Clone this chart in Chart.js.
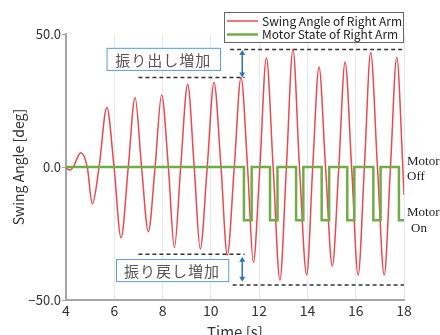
<!DOCTYPE html>
<html>
<head>
<meta charset="utf-8">
<script src="https://cdn.jsdelivr.net/npm/chart.js@4"></script>
<style>
  body { margin: 0; background: #fff; }
  #wrap { width: 440px; height: 335px; }
</style>
</head>
<body>
<div id="wrap"><canvas id="swingChart" width="440" height="335"></canvas></div>
<script>
// Swing angle of right arm (deg): peaks, zero crossings, troughs
const angleTimes = [4.0, 4.17, 4.3, 4.61, 4.88, 5.09, 5.37, 5.69, 5.99, 6.28, 6.58, 6.86, 7.13, 7.41,
    7.69, 7.96, 8.24, 8.49, 8.75, 9.04, 9.31, 9.56, 9.85, 10.13, 10.42, 10.68, 10.97, 11.25, 11.52,
    11.76, 12.03, 12.3, 12.58, 12.86, 13.13, 13.4, 13.67, 13.97, 14.22, 14.48, 14.75, 15.03, 15.3,
    15.56, 15.83, 16.1, 16.36, 16.62, 16.9, 17.18, 17.44, 17.7, 17.95, 18.0];
const angleValues = [-0.5, -1.1, 0, 5.4, 0, -13.9, 0, 22.4, 0, -26.6, 0, 26.1, 0, -24.3,
    0, 27.1, 0, -30.3, 0, 31.1, 0, -30.8, 0, 31.8, 0, -33.1, 0, 33.6, 0,
    -35.8, 0, 41.0, 0, -42.5, 0, 44.3, 0, -40.6, 0, 37.6, 0, -37.2, 0,
    39.5, 0, -40.6, 0, 43.0, 0, -40.6, 0, 41.3, 0, -10.5];

// Motor state: 0 = off, -20 = on (value holds until the next change)
const motorTimes = [4.0, 11.37, 11.69, 12.45, 12.76, 13.53, 13.83, 14.59, 14.9, 15.65, 15.94, 16.73, 17.03, 17.79, 18.0];
const motorStates = [0, -20, 0, -20, 0, -20, 0, -20, 0, -20, 0, -20, 0, -20, -20];

const seriesLabels = ["Swing Angle of Right Arm", "Motor State of Right Arm"];
const xTicks = [4, 6, 8, 10, 12, 14, 16, 18];
const yTicks = [-50, 0, 50];

const RED = "rgb(236, 72, 78)";
const GREEN = "rgb(112, 173, 71)";
const JP_FONT = "'Noto Sans CJK JP', 'Noto Sans', sans-serif";

// dashed guide lines and annotation boxes, in data units
const guides = [
    { x0: 10.8, x1: 18.0, y: 44.2 },
    { x0: 7.0, x1: 11.4, y: 33.6 },
    { x0: 7.0, x1: 11.4, y: -32.8 },
    { x0: 10.9, x1: 18.0, y: -44.4 }
];
const notes = [
    { text: "振り出し増加", x0: 5.68, x1: 10.38, y0: 44.8, y1: 36.5, ax: 11.3, ay0: 44.0, ay1: 33.6 },
    { text: "振り戻し増加", x0: 6.07, x1: 10.72, y0: -34.6, y1: -42.9, ax: 11.3, ay0: -33.7, ay1: -43.1 }
];

function toPoints(xs, ys) {
    return xs.map((x, i) => ({ x: x, y: ys[i] }));
}

function arrowHead(ctx, x, y, dir) {
    ctx.beginPath();
    ctx.moveTo(x, y);
    ctx.lineTo(x - 3, y - 5 * dir);
    ctx.lineTo(x + 3, y - 5 * dir);
    ctx.closePath();
    ctx.fill();
}

const decorations = {
    id: "decorations",
    afterDatasetsDraw(chart) {
        const ctx = chart.ctx;
        const xs = chart.scales.x;
        const ys = chart.scales.y;
        ctx.save();

        // dashed guides
        ctx.strokeStyle = "#333";
        ctx.lineWidth = 1.5;
        ctx.setLineDash([4, 3]);
        guides.forEach(g => {
            const py = ys.getPixelForValue(g.y);
            ctx.beginPath();
            ctx.moveTo(xs.getPixelForValue(g.x0), py);
            ctx.lineTo(xs.getPixelForValue(g.x1), py);
            ctx.stroke();
        });
        ctx.setLineDash([]);

        // text boxes and arrows
        notes.forEach(n => {
            const l = xs.getPixelForValue(n.x0), r = xs.getPixelForValue(n.x1);
            const t = ys.getPixelForValue(n.y0), b = ys.getPixelForValue(n.y1);
            ctx.fillStyle = "#fff";
            ctx.fillRect(l, t, r - l, b - t);
            ctx.strokeStyle = "#5b9bd5";
            ctx.lineWidth = 1;
            ctx.strokeRect(l + 0.5, t + 0.5, r - l, b - t);
            ctx.fillStyle = "#555";
            ctx.font = "15px " + JP_FONT;
            ctx.textAlign = "center";
            ctx.textBaseline = "middle";
            ctx.letterSpacing = "1px";
            ctx.fillText(n.text, (l + r) / 2, (t + b) / 2 + 1);
            ctx.letterSpacing = "0px";

            const ax = xs.getPixelForValue(n.ax);
            const a0 = ys.getPixelForValue(n.ay0), a1 = ys.getPixelForValue(n.ay1);
            ctx.strokeStyle = "#2e75b6";
            ctx.fillStyle = "#2e75b6";
            ctx.lineWidth = 1.5;
            ctx.beginPath();
            ctx.moveTo(ax, a0 + 3);
            ctx.lineTo(ax, a1 - 3);
            ctx.stroke();
            arrowHead(ctx, ax, a0, -1);
            arrowHead(ctx, ax, a1, 1);
        });

        // legend
        const lx = 224, ly = 12, lw = 179, lh = 30;
        ctx.fillStyle = "#fff";
        ctx.fillRect(lx, ly, lw, lh);
        ctx.strokeStyle = "#666";
        ctx.lineWidth = 1;
        ctx.strokeRect(lx + 0.5, ly + 0.5, lw, lh);
        const colors = [RED, GREEN];
        ctx.font = "12px " + JP_FONT;
        ctx.textAlign = "left";
        ctx.textBaseline = "middle";
        seriesLabels.forEach((label, i) => {
            const y = ly + 9 + i * 13.5;
            ctx.strokeStyle = colors[i];
            ctx.lineWidth = i === 0 ? 1.5 : 2.5;
            ctx.beginPath();
            ctx.moveTo(lx + 3, y);
            ctx.lineTo(lx + 34, y);
            ctx.stroke();
            ctx.fillStyle = "#222";
            ctx.fillText(label, lx + 38, y);
        });

        // motor labels on the right
        ctx.font = "13px 'Liberation Serif', serif";
        ctx.fillStyle = "#222";
        const yOff = ys.getPixelForValue(0);
        const yOn = ys.getPixelForValue(-20);
        ctx.fillText("Motor", 407, yOff - 5);
        ctx.fillText("Off", 407, yOff + 10);
        ctx.fillText("Motor", 407, yOn - 8);
        ctx.fillText("On", 411, yOn + 8);

        // axis titles
        ctx.fillStyle = "#333";
        ctx.font = "15px " + JP_FONT;
        ctx.textAlign = "center";
        ctx.fillText("Time [s]", (chart.chartArea.left + chart.chartArea.right) / 2, 332);
        ctx.font = "14px " + JP_FONT;
        ctx.translate(19, (chart.chartArea.top + chart.chartArea.bottom) / 2);
        ctx.rotate(-Math.PI / 2);
        ctx.fillText("Swing Angle [deg]", 0, 0);
        ctx.restore();
    }
};

new Chart(document.getElementById("swingChart"), {
    type: "line",
    data: {
        datasets: [
            {
                label: seriesLabels[1],
                data: toPoints(motorTimes, motorStates),
                borderColor: GREEN,
                borderWidth: 2.5,
                stepped: true,
                pointRadius: 0,
                order: 0
            },
            {
                label: seriesLabels[0],
                data: toPoints(angleTimes, angleValues),
                borderColor: RED,
                borderWidth: 1.5,
                cubicInterpolationMode: "monotone",
                pointRadius: 0,
                order: 1
            }
        ]
    },
    options: {
        responsive: false,
        animation: false,
        layout: { padding: { left: 0, right: 36, top: 34, bottom: 0 } },
        plugins: {
            legend: { display: false },
            tooltip: { enabled: false }
        },
        scales: {
            x: {
                type: "linear",
                min: 4,
                max: 18,
                afterBuildTicks: s => { s.ticks = xTicks.map(v => ({ value: v })); },
                afterFit: s => { s.height = 35; },
                ticks: { color: "#333", font: { size: 14, family: JP_FONT }, padding: 2 },
                grid: { color: "#e3e9f0", lineWidth: 1, drawTicks: false },
                border: { color: "#a6a6a6", width: 2 }
            },
            y: {
                min: -50,
                max: 50,
                afterBuildTicks: s => { s.ticks = yTicks.map(v => ({ value: v })); },
                afterFit: s => { s.width = 66; },
                ticks: {
                    color: "#333",
                    font: { size: 13, family: JP_FONT },
                    padding: 1,
                    callback: v => v.toFixed(1).replace("-", "\u2212")
                },
                grid: { drawOnChartArea: false, drawTicks: true, tickLength: 4, color: "#a6a6a6" },
                border: { color: "#a6a6a6", width: 2 }
            }
        }
    },
    plugins: [decorations]
});
</script>
</body>
</html>
